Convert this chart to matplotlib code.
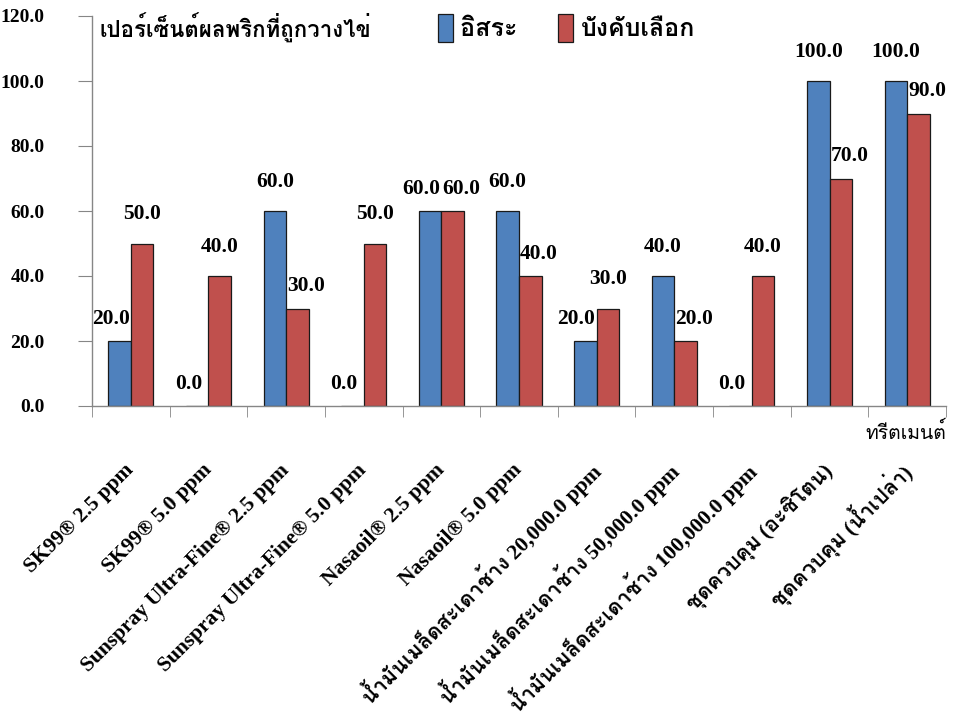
import matplotlib
matplotlib.use('Agg')
import matplotlib.pyplot as plt
from matplotlib import font_manager, ft2font
import numpy as np

# data
categories = [
    'SK99® 2.5 ppm',
    'SK99® 5.0 ppm',
    'Sunspray Ultra-Fine® 2.5 ppm',
    'Sunspray Ultra-Fine® 5.0 ppm',
    'Nasaoil® 2.5 ppm',
    'Nasaoil® 5.0 ppm',
    'น้ำมันเมล็ดสะเดาช้าง 20,000.0 ppm',
    'น้ำมันเมล็ดสะเดาช้าง 50,000.0 ppm',
    'น้ำมันเมล็ดสะเดาช้าง 100,000.0 ppm',
    'ชุดควบคุม (อะซิโตน)',
    'ชุดควบคุม (น้ำเปล่า)',
]
free_choice = [20.0, 0.0, 60.0, 0.0, 60.0, 60.0, 20.0, 40.0, 0.0, 100.0, 100.0]
no_choice = [50.0, 40.0, 30.0, 50.0, 60.0, 40.0, 30.0, 20.0, 40.0, 70.0, 90.0]
series_names = ['อิสระ', 'บังคับเลือก']
y_title = 'เปอร์เซ็นต์ผลพริกที่ถูกวางไข่'
x_title = 'ทรีตเมนต์'
y_ticks = [0, 20, 40, 60, 80, 100, 120]


def find_thai_font():
    # look for any installed font that has Thai glyphs
    found = []
    for f in font_manager.fontManager.ttflist:
        try:
            if 0x0E01 in ft2font.FT2Font(f.fname).get_charmap():
                found.append(f.name)
        except Exception:
            continue
    return found[0] if found else 'DejaVu Sans'


thai = find_thai_font()
fam = ['Liberation Serif', thai, 'DejaVu Sans']
plt.rcParams['font.family'] = fam
plt.rcParams['font.weight'] = 'bold'

BLUE = '#4F81BD'
RED = '#C0504D'
GRAY = '#868686'

fig = plt.figure(figsize=(9.7, 7.2), dpi=100)
ax = fig.add_axes([92 / 970, 1 - 406 / 720, 854 / 970, 390 / 720])

x = np.arange(len(categories))
bw = 0.29
b1 = ax.bar(x - bw / 2, free_choice, bw, color=BLUE, edgecolor='#1a1a1a', linewidth=0.9, label=series_names[0])
b2 = ax.bar(x + bw / 2, no_choice, bw, color=RED, edgecolor='#1a1a1a', linewidth=0.9, label=series_names[1])

ax.set_xlim(-0.5, len(categories) - 0.5)
ax.set_ylim(0, 120)
ax.set_yticks(y_ticks)
ax.set_yticklabels(['%.1f' % v for v in y_ticks], fontsize=14, fontweight='bold')

ax.set_xticks(x)
ax.set_xticklabels(categories, rotation=45, ha='right', va='center',
                   rotation_mode='anchor', fontsize=15.5, fontweight='bold')
ax.tick_params(axis='x', which='major', length=0, pad=44)
ax.set_xticks(np.arange(-0.5, len(categories)), minor=True)
ax.tick_params(axis='x', which='minor', length=8, color=GRAY, direction='out')
ax.tick_params(axis='y', length=10, color=GRAY, pad=24, direction='out')

for s in ['top', 'right']:
    ax.spines[s].set_visible(False)
for s in ['left', 'bottom']:
    ax.spines[s].set_color(GRAY)
    ax.spines[s].set_linewidth(1.0)

# value labels, nudged sideways when the neighbour bar is taller (like Excel)
half = 0.26
for i in range(len(categories)):
    a, b = free_choice[i], no_choice[i]
    if b >= a:
        xa, da = x[i] - half, 16
    else:
        xa, da = x[i] - bw / 2, 21
    if a >= b:
        xb, db = x[i] + half, 16
    else:
        xb, db = x[i] + bw / 2, 21
    ax.annotate('%.1f' % a, (xa, a), xytext=(0, da), textcoords='offset points',
                ha='center', va='center', fontsize=15.5, fontweight='bold')
    ax.annotate('%.1f' % b, (xb, b), xytext=(0, db), textcoords='offset points',
                ha='center', va='center', fontsize=15.5, fontweight='bold')

fig.text(100 / 970, 1 - 28 / 720, y_title, fontsize=16, fontweight='bold', va='center', ha='left')
fig.text(946 / 970, 1 - 432 / 720, x_title, fontsize=14, fontweight='normal', va='center', ha='right')

ax.legend(handles=[b1, b2], labels=series_names, loc='center left',
          bbox_to_anchor=(428 / 970, 1 - 28 / 720), bbox_transform=fig.transFigure,
          ncol=2, frameon=False, fontsize=18, handlelength=0.6, handleheight=1.3,
          handletextpad=0.3, columnspacing=1.6, borderaxespad=0)

fig.savefig('out.png', dpi=100)
